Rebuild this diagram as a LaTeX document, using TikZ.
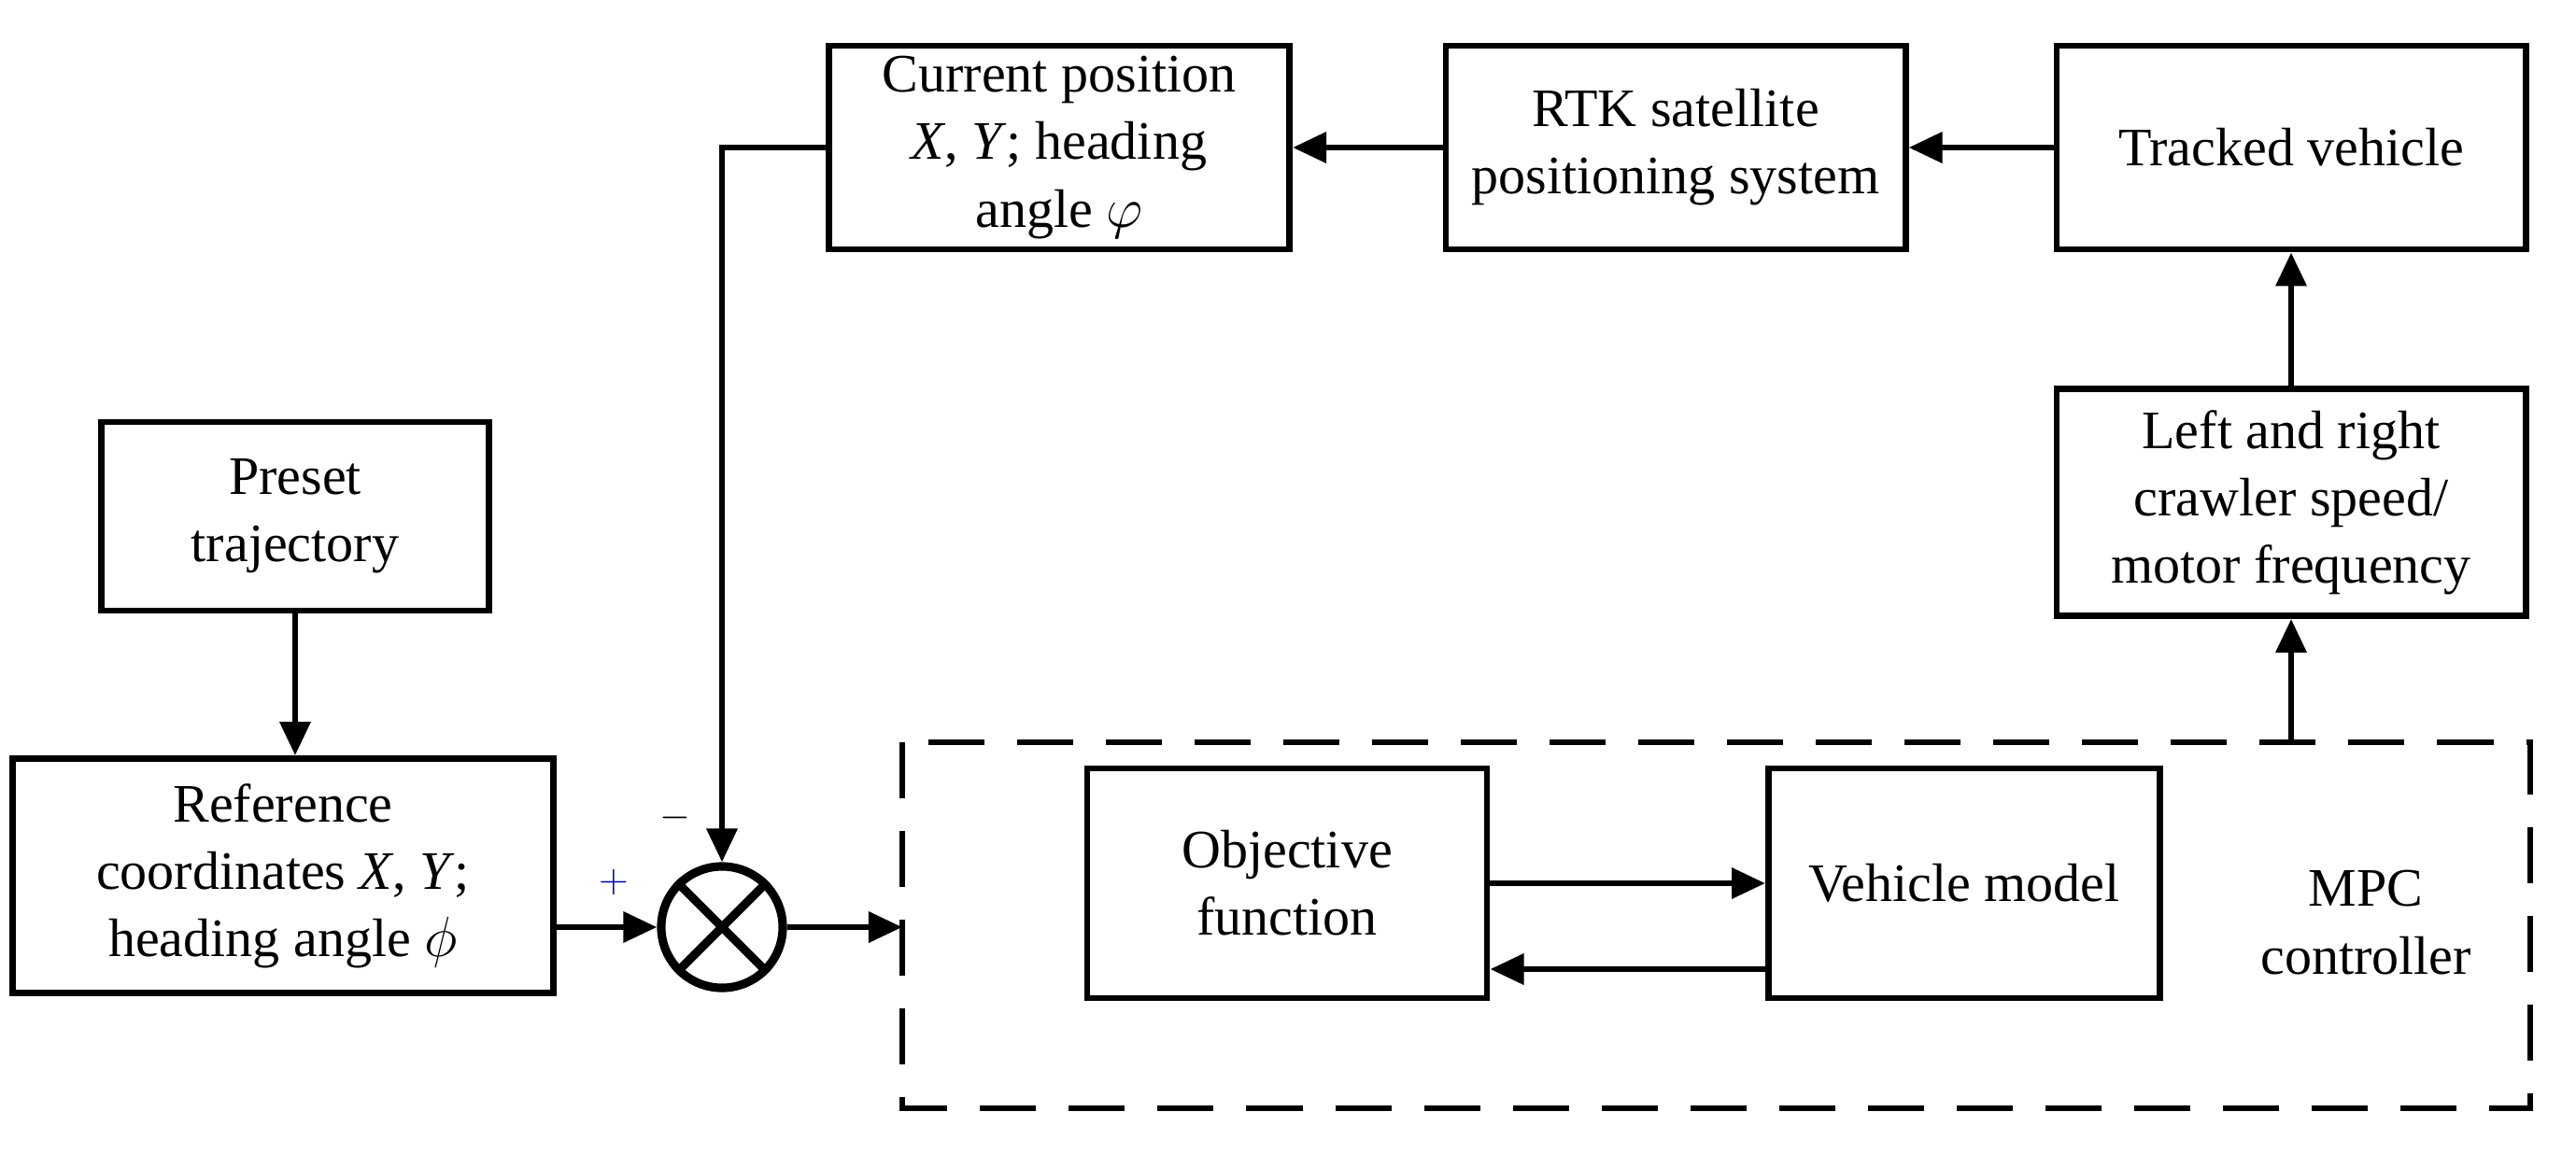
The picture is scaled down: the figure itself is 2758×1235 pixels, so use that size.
\documentclass[tikz,border=0pt]{standalone}
\usepackage{fontspec}
\setmainfont{Liberation Serif}
\usetikzlibrary{arrows.meta}

\begin{document}
\begin{tikzpicture}[
    x=0.01cm,
    y=-0.01cm,
    line width=1.9pt,
    >={Triangle[length=0.36cm,width=0.32cm]},
    block/.style={draw, rectangle, align=center, inner sep=0,
      font=\fontsize{16.5}{20.5}\selectfont},
    sumnode/.style={draw, circle, minimum size=1.3cm, inner sep=0,
      line width=2.6pt},
    plain/.style={font=\fontsize{16.5}{20.5}\selectfont, align=center}]
   \useasboundingbox (0,0) rectangle (2758,1235);

   \path
     node(curpos) at (1134,158) [block, minimum width=4.93cm, minimum height=2.18cm]
       {Current position\\\textit{X}, \textit{Y}; heading\\angle $\varphi$}
     node(rtk) at (1794,158) [block, minimum width=4.92cm, minimum height=2.18cm]
       {RTK satellite\\positioning system}
     node(tracked) at (2453,158) [block, minimum width=5.02cm, minimum height=2.18cm]
       {Tracked vehicle}
     node(crawler) at (2453,538) [block, minimum width=5.02cm, minimum height=2.43cm]
       {Left and right\\crawler speed/\\motor frequency}
     node(preset) at (316,553) [block, minimum width=4.15cm, minimum height=2.02cm]
       {Preset\\trajectory}
     node(refc) at (303,938) [block, minimum width=5.78cm, minimum height=2.51cm]
       {Reference\\coordinates \textit{X}, \textit{Y};\\heading angle $\phi$}
     node(sum) at (773,993) [sumnode] {}
     node(objfun) at (1378,946) [block, minimum width=4.28cm, minimum height=2.46cm]
       {Objective\\function}
     node(vehmod) at (2103,946) [block, minimum width=4.19cm, minimum height=2.46cm]
       {Vehicle model}
     node(mpctext) at (2533,988) [plain] {MPC\\controller};

   % dashed controller frame
   \draw[dash pattern=on 0.6cm off 0.35cm] (966,795) rectangle (2709,1187);
   \coordinate (mpcin) at (966,993);
   \coordinate (mpcout) at (2453,795);

   % summing junction cross
   \draw[line width=2.6pt] (sum.north east) -- (sum.south west)
                           (sum.north west) -- (sum.south east);
   \node[text=blue!70!black, font=\large] (plus) at (657,945) {$+$};
   \node[font=\large] (minus) at (723,876) {$-$};

   \draw[->] (tracked) -- (rtk);
   \draw[->] (rtk) -- (curpos);
   \draw[->] (curpos.west) -| (sum.north);
   \draw[->] (preset.south) -- (preset.south |- refc.north);
   \draw[->] (refc.east |- sum) -- (sum);
   \draw[->] (sum) -- (mpcin);
   \draw[->] (objfun.east |- 0,946) -- (vehmod.west |- 0,946);
   \draw[->] (vehmod.west |- 0,1038) -- (objfun.east |- 0,1038);
   \draw[->] (mpcout) -- (crawler);
   \draw[->] (crawler) -- (tracked);
\end{tikzpicture}
\end{document}
